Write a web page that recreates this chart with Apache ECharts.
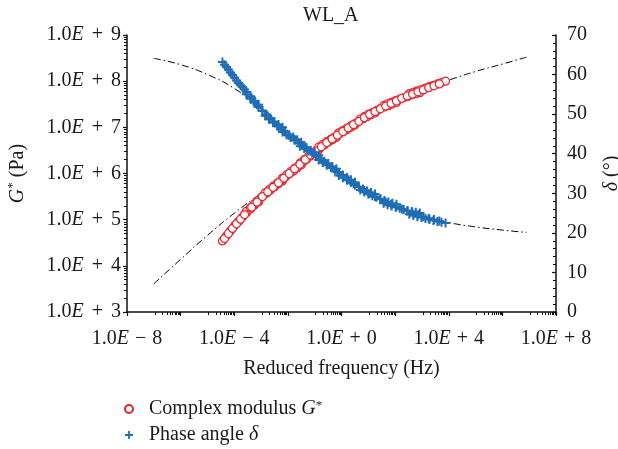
<!DOCTYPE html>
<html>
<head>
<meta charset="utf-8">
<script src="https://cdn.jsdelivr.net/npm/echarts@6/dist/echarts.min.js"></script>
<style>
html,body{margin:0;padding:0;background:#fff;}
#chart{width:618px;height:449px;}
</style>
</head>
<body>
<div id="chart"></div>
<script>
// ---- data (log10 of reduced frequency, Hz) ----
const freqExp = [
  -4.44,-4.29,-4.14,-3.99,-3.84,-3.69,-3.54,-3.39,-3.24,-3.09,
  -3.55,-3.40,-3.25,-3.10,-2.95,-2.80,-2.65,-2.50,-2.35,-2.20,
  -2.85,-2.70,-2.55,-2.40,-2.25,-2.10,-1.95,-1.80,-1.65,-1.50,
  -2.20,-2.05,-1.90,-1.75,-1.60,-1.45,-1.30,-1.15,-1.00,-0.85,
  -1.54,-1.39,-1.24,-1.09,-0.94,-0.79,-0.64,-0.49,-0.34,-0.19,
  -0.85,-0.70,-0.55,-0.40,-0.25,-0.10,0.05,0.20,0.35,0.50,
  -0.10,0.05,0.20,0.35,0.50,0.65,0.80,0.95,1.10,1.25,
  0.70,0.85,1.00,1.15,1.30,1.45,1.60,1.75,1.90,2.05,
  1.57,1.72,1.87,2.02,2.17,2.32,2.47,2.62,2.77,2.92,
  2.53,2.68,2.83,2.98,3.13,3.28,3.43,3.58,3.73,3.88,
  -3.35,-3.15,-2.95,-2.75,-2.55,-2.35,-2.15,-1.95,-1.75,-1.55,-1.35,-1.15,
  -0.95,-0.75,-0.55,-0.35,-0.15,0.05,0.25,0.45,0.65,0.85,1.05,1.25,
  1.45,1.65,1.85,2.05,2.25,2.45,2.65,2.85,3.05,3.25,3.45,3.65,
  -4.365,-4.215,-4.065,-3.915,-3.765,-3.615
];
// log10 of complex modulus G* (Pa)
const modulusExp = [
  4.54,4.65,4.76,4.87,4.96,5.06,5.15,5.23,5.32,5.39,
  5.18,5.26,5.34,5.42,5.50,5.57,5.64,5.71,5.78,5.84,
  5.58,5.65,5.72,5.79,5.85,5.92,5.99,6.05,6.12,6.19,
  5.90,5.97,6.04,6.11,6.17,6.24,6.31,6.38,6.45,6.51,
  6.23,6.30,6.37,6.44,6.50,6.56,6.62,6.68,6.73,6.78,
  6.57,6.63,6.69,6.74,6.79,6.85,6.90,6.95,7.00,7.05,
  6.88,6.93,6.98,7.03,7.08,7.13,7.18,7.23,7.27,7.31,
  7.18,7.23,7.28,7.32,7.36,7.40,7.44,7.47,7.51,7.54,
  7.47,7.51,7.54,7.58,7.61,7.64,7.67,7.70,7.73,7.75,
  7.73,7.76,7.79,7.82,7.85,7.88,7.91,7.94,7.97,8.00,
  5.27,5.38,5.50,5.60,5.70,5.80,5.90,6.00,6.10,6.20,6.30,6.40,
  6.49,6.58,6.67,6.75,6.83,6.91,6.99,7.06,7.13,7.21,7.28,7.34,
  7.40,7.46,7.52,7.57,7.63,7.68,7.72,7.77,7.81,7.86,7.90,7.94,
  4.59,4.70,4.81,4.91,5.01,5.11
];
// phase angle delta (degrees)
const phaseAngle = [
  63.2,61.9,60.5,59.2,57.9,56.8,55.6,54.5,53.4,52.4,
  55.0,53.9,52.9,51.8,50.8,49.9,49.0,48.1,47.4,46.7,
  49.6,48.7,47.8,47.0,46.3,45.5,44.8,44.2,43.5,42.9,
  45.5,44.7,44.1,43.4,42.8,42.1,41.5,40.9,40.3,39.6,
  41.9,41.3,40.7,40.1,39.4,38.8,38.1,37.5,36.8,36.2,
  38.4,37.8,37.1,36.5,35.8,35.2,34.6,34.0,33.4,32.8,
  34.5,33.9,33.3,32.7,32.1,31.6,31.1,30.6,30.2,29.8,
  30.8,30.3,29.8,29.4,29.0,28.6,28.2,27.8,27.5,27.2,
  27.5,27.1,26.8,26.5,26.2,25.9,25.6,25.4,25.2,25.0,
  24.7,24.4,24.1,23.9,23.6,23.4,23.1,22.9,22.7,22.5,
  54.0,52.4,50.9,49.5,48.1,46.9,45.8,44.6,43.6,42.6,41.6,40.6,
  39.5,38.5,37.5,36.4,35.4,34.4,33.4,32.4,31.6,30.7,29.9,29.2,
  28.5,27.8,27.2,26.6,26.0,25.5,25.0,24.6,24.1,23.7,23.4,23.0,
  62.5,61.2,59.9,58.5,57.3,56.2
];
// model (dash-dot) curves
const modelFreqExp = [-7,-6,-5,-4,-3,-2,-1,0,1,2,3,4,5,6,6.9];
const modelModulusExp = [3.61,4.14,4.66,5.14,5.57,5.99,6.45,6.88,7.26,7.56,7.80,8.02,8.21,8.37,8.52];
const modelPhaseAngle = [64.1,62.5,60.0,56.5,51.4,45.2,40.0,34.6,30.1,26.7,24.2,22.6,21.5,20.7,20.1];

// tick labels
const xTickExponents = [-8,-4,0,4,8];
const yTickExponents = [3,4,5,6,7,8,9];
const rightTicks = [0,10,20,30,40,50,60,70];

const seriesNames = ['Complex modulus G*', 'Phase angle δ'];
const titleText = 'WL_A';

const FONT = 'Liberation Serif';
const TXT = '#1a1a1a';
const RED = '#e8222b';
const BLUE = '#1f6db4';
const AX = '#111';

const pts = (xs, ys, logY) => xs.map((x, i) => [Math.pow(10, x), logY ? Math.pow(10, ys[i]) : ys[i]]);

function tickRich(pad) {
  return {
    n: {fontFamily: FONT, fontSize: 20, color: TXT},
    e: {fontFamily: FONT, fontSize: 20, color: TXT, fontStyle: 'italic'},
    o: {fontFamily: FONT, fontSize: 20, color: TXT, padding: [0, pad, 0, pad]}
  };
}
function powLabel(list) {
  return function (v) {
    const e = Math.round(Math.log10(v));
    if (list.indexOf(e) < 0) return '';
    const s = e < 0 ? '−' : '+';
    return '{n|1.0}{e|E}{o|' + s + '}{n|' + Math.abs(e) + '}';
  };
}

function nameRich(lh) {
  return {
    t: {fontFamily: FONT, fontSize: 20, color: TXT, lineHeight: lh},
    i: {fontFamily: FONT, fontSize: 20, color: TXT, fontStyle: 'italic', lineHeight: lh},
    s: {fontFamily: FONT, fontSize: 13, color: TXT, lineHeight: 13, verticalAlign: 'top'}
  };
}

const plusPath = 'path://M3.5,0H5.5V3.5H9V5.5H5.5V9H3.5V5.5H0V3.5H3.5Z';

const chart = echarts.init(document.getElementById('chart'), null, {renderer: 'canvas'});
chart.setOption({
  animation: false,
  backgroundColor: '#fff',
  title: {
    text: titleText, left: 298, top: 1,
    textStyle: {fontFamily: FONT, fontSize: 20, fontWeight: 'normal', color: TXT}
  },
  grid: {left: 127, right: 62, top: 35, bottom: 137, containLabel: false, outerBoundsMode: 'none'},
  legend: {
    data: seriesNames,
    orient: 'vertical', left: 124, top: 399, padding: 0,
    itemWidth: 8, itemHeight: 8, itemGap: 6,
    formatter: function (name) {
      if (name === seriesNames[0]) return '{t|Complex modulus }{i|G}{s|*}';
      return '{t|Phase angle }{i|δ}';
    },
    textStyle: {fontFamily: FONT, fontSize: 20, color: TXT, padding: [0, 0, 0, 11], rich: nameRich(20)}
  },
  xAxis: {
    type: 'log', logBase: 10, min: 1e-8, max: 1e8, interval: 2,
    axisLine: {show: true, lineStyle: {color: AX, width: 1.5}},
    axisTick: {show: true, length: 4, lineStyle: {color: AX, width: 1.2}},
    minorTick: {show: true, splitNumber: 10, length: 3, lineStyle: {color: AX, width: 1}},
    splitLine: {show: false}, minorSplitLine: {show: false},
    axisLabel: {margin: 17, formatter: powLabel(xTickExponents), rich: tickRich(6)},
    name: 'Reduced frequency (Hz)', nameLocation: 'middle', nameGap: 47,
    nameTextStyle: {fontFamily: FONT, fontSize: 20, color: TXT}
  },
  yAxis: [{
    type: 'log', logBase: 10, min: 1e3, max: 1e9, interval: 1,
    axisLine: {show: true, lineStyle: {color: AX, width: 1.5}},
    axisTick: {show: true, length: 4, lineStyle: {color: AX, width: 1.2}},
    minorTick: {show: true, splitNumber: 9, length: 3, lineStyle: {color: AX, width: 1}},
    splitLine: {show: false}, minorSplitLine: {show: false},
    axisLabel: {margin: 6, formatter: powLabel(yTickExponents), rich: tickRich(8)},
    name: '{i|G}{s|*}{t| (Pa)}', nameLocation: 'middle', nameGap: 97, nameRotate: 90,
    nameTextStyle: {fontFamily: FONT, fontSize: 20, color: TXT, rich: nameRich(24)}
  }, {
    type: 'value', min: 0, max: 70, interval: 10, position: 'right',
    axisLine: {show: true, lineStyle: {color: AX, width: 1.5}},
    axisTick: {show: true, inside: true, length: 4, lineStyle: {color: AX, width: 1.2}},
    minorTick: {show: true, splitNumber: 5, length: 3, lineStyle: {color: AX, width: 1}},
    splitLine: {show: false}, minorSplitLine: {show: false},
    axisLabel: {margin: 11, fontFamily: FONT, fontSize: 20, color: TXT,
      formatter: function (v) { return rightTicks.indexOf(v) >= 0 ? String(v) : ''; }},
    name: '{i|δ}{t| (°)}', nameLocation: 'middle', nameGap: 44, nameRotate: 90,
    nameTextStyle: {fontFamily: FONT, fontSize: 20, color: TXT, rich: nameRich(24)}
  }],
  series: [{
    name: 'model G', type: 'line', xAxisIndex: 0, yAxisIndex: 0,
    data: pts(modelFreqExp, modelModulusExp, true), smooth: true, showSymbol: false, symbol: 'none',
    lineStyle: {color: '#000', width: 1, type: [7, 3, 1.5, 3]}, z: 1, silent: true
  }, {
    name: 'model delta', type: 'line', xAxisIndex: 0, yAxisIndex: 1,
    data: pts(modelFreqExp, modelPhaseAngle, false), smooth: true, showSymbol: false, symbol: 'none',
    lineStyle: {color: '#000', width: 1, type: [7, 3, 1.5, 3]}, z: 1, silent: true
  }, {
    name: seriesNames[0], type: 'scatter', xAxisIndex: 0, yAxisIndex: 0,
    data: pts(freqExp, modulusExp, true),
    symbol: 'circle', symbolSize: 8,
    itemStyle: {color: '#fff', borderColor: RED, borderWidth: 1.2, opacity: 1}, z: 3
  }, {
    name: seriesNames[1], type: 'scatter', xAxisIndex: 0, yAxisIndex: 1,
    data: pts(freqExp, phaseAngle, false),
    symbol: plusPath, symbolSize: 9,
    itemStyle: {color: BLUE, opacity: 1}, z: 4
  }]
});
</script>
</body>
</html>
